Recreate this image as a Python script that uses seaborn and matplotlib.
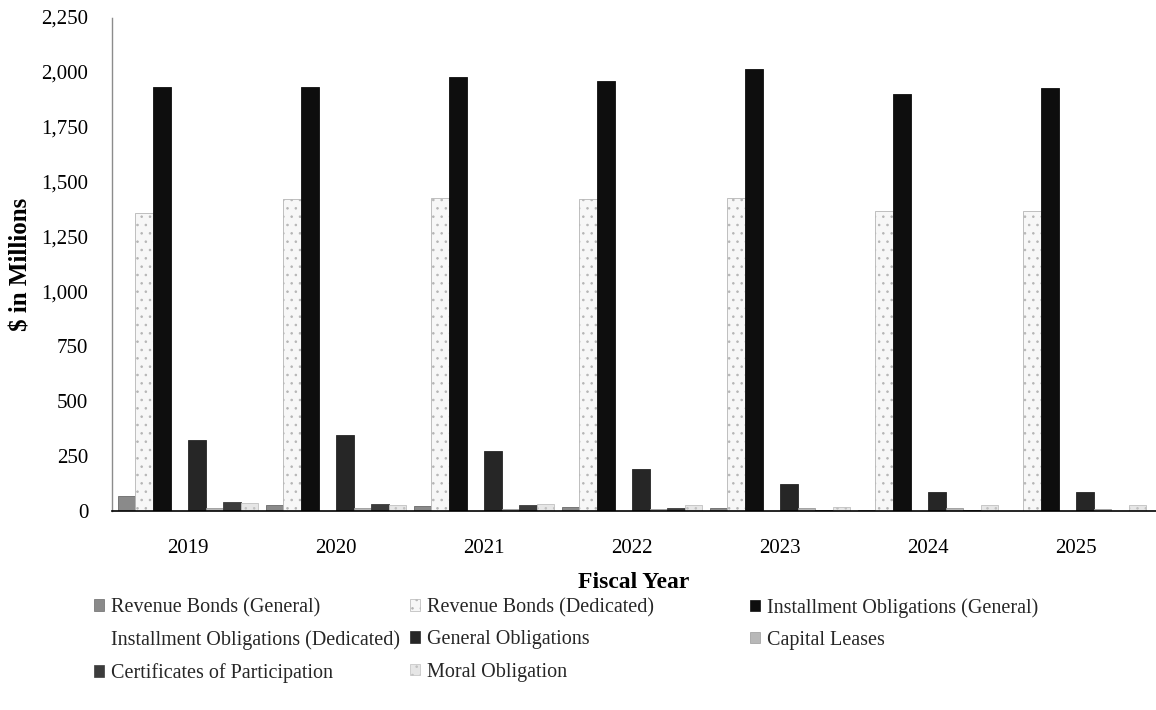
import numpy as np
import pandas as pd
import seaborn as sns
import matplotlib.pyplot as plt
from matplotlib.patches import Patch
from matplotlib.ticker import FuncFormatter

# data ($ in millions)
years = ['2019', '2020', '2021', '2022', '2023', '2024', '2025']
series = ['Revenue Bonds (General)', 'Revenue Bonds (Dedicated)',
          'Installment Obligations (General)', 'Installment Obligations (Dedicated)',
          'General Obligations', 'Capital Leases',
          'Certificates of Participation', 'Moral Obligation']
rev_general = [70, 25, 22, 20, 15, 3, 2]
rev_dedicated = [1355, 1420, 1425, 1420, 1425, 1365, 1365]
inst_general = [1930, 1930, 1975, 1960, 2015, 1900, 1925]
inst_dedicated = [0, 0, 0, 0, 0, 0, 0]
general_oblig = [325, 345, 275, 190, 125, 85, 85]
capital_leases = [15, 12, 10, 10, 12, 12, 10]
cert_particip = [42, 32, 27, 12, 5, 3, 2]
moral_oblig = [35, 27, 30, 27, 20, 25, 25]

values = [rev_general, rev_dedicated, inst_general, inst_dedicated,
          general_oblig, capital_leases, cert_particip, moral_oblig]
df = pd.DataFrame({
    'Year': np.tile(years, len(series)),
    'Series': np.repeat(series, len(years)),
    'Value': np.concatenate(values),
})

# face, edge, hatch per series
styles = {
    'Revenue Bonds (General)': ('#8a8a8a', '#6a6a6a', ''),
    'Revenue Bonds (Dedicated)': ('#f7f7f7', '#b5b5b5', '..'),
    'Installment Obligations (General)': ('#0e0e0e', '#0e0e0e', ''),
    'Installment Obligations (Dedicated)': ('#ffffff', '#ffffff', ''),
    'General Obligations': ('#262626', '#262626', ''),
    'Capital Leases': ('#b8b8b8', '#9a9a9a', ''),
    'Certificates of Participation': ('#3c3c3c', '#3c3c3c', ''),
    'Moral Obligation': ('#e6e6e6', '#c0c0c0', '..'),
}

sns.set_theme(style='white')
plt.rcParams['font.family'] = ['Liberation Serif', 'DejaVu Serif']
plt.rcParams['hatch.linewidth'] = 0.6

fig = plt.figure(figsize=(11.56, 7.1), dpi=100)
ax = fig.add_axes([0.0969, 0.2803, 0.9031, 0.6958])

sns.barplot(data=df, x='Year', y='Value', hue='Series', hue_order=series,
            palette={k: v[0] for k, v in styles.items()}, width=0.95,
            saturation=1, legend=False, ax=ax)

for name, cont in zip(series, ax.containers):
    fc, ec, hatch = styles[name]
    for p in cont.patches:
        p.set_edgecolor(ec)
        p.set_linewidth(0.6)
        p.set_hatch(hatch)

ax.set_xlim(-0.514, 6.54)
ax.set_ylim(0, 2250)
ax.set_yticks(np.arange(0, 2251, 250))
ax.yaxis.set_major_formatter(FuncFormatter(lambda v, _: f'{int(v):,}'))
ax.tick_params(axis='y', length=0, pad=17, labelsize=15)
ax.tick_params(axis='x', length=0, pad=20, labelsize=15)
for lab in ax.get_xticklabels() + ax.get_yticklabels():
    lab.set_color('black')

ax.set_xlabel('Fiscal Year', fontsize=17, fontweight='bold', labelpad=10, color='black')
ax.set_ylabel('$ in Millions', fontsize=18, fontweight='bold', color='black')
ax.yaxis.set_label_coords(-0.076, 0.5)

for s in ['top', 'right']:
    ax.spines[s].set_visible(False)
ax.spines['left'].set_color('#8c8c8c')
ax.spines['left'].set_linestyle((0, (1, 1)))
ax.spines['left'].set_linewidth(1.0)
ax.spines['bottom'].set_color('black')
ax.spines['bottom'].set_linewidth(1.2)

# legend in three columns, filled row by row
handles = {name: Patch(facecolor=styles[name][0], edgecolor=styles[name][1],
                       hatch=styles[name][2], linewidth=0.5) for name in series}
cols = [[series[0], series[3], series[6]],
        [series[1], series[4], series[7]],
        [series[2], series[5]]]
col_x = [0.081, 0.355, 0.649]
for cx, names in zip(col_x, cols):
    fig.legend([handles[n] for n in names], names, loc='upper left',
               bbox_to_anchor=(cx, 0.158), frameon=False, fontsize=14.5,
               handlelength=0.5, handleheight=0.5, handletextpad=0.35,
               labelspacing=0.66, borderpad=0, borderaxespad=0)

fig.savefig('out.png', dpi=100)
